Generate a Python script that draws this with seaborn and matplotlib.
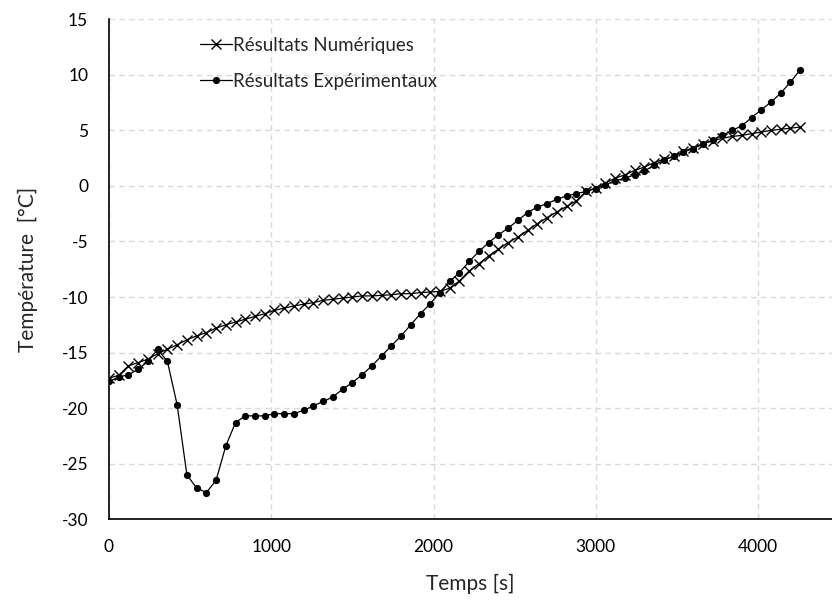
import matplotlib
matplotlib.use("Agg")
import matplotlib.pyplot as plt
import seaborn as sns
import pandas as pd

sns.set_style("white")
plt.rcParams['font.family'] = ['Lato', 'DejaVu Sans']
plt.rcParams['axes.unicode_minus'] = False

# sampling times (s), one reading every minute
temps = [0, 60, 120, 180, 240, 300, 360, 420, 480, 540, 600, 660,
         720, 780, 840, 900, 960, 1020, 1080, 1140, 1200, 1260, 1320, 1380,
         1440, 1500, 1560, 1620, 1680, 1740, 1800, 1860, 1920, 1980, 2040, 2100,
         2160, 2220, 2280, 2340, 2400, 2460, 2520, 2580, 2640, 2700, 2760, 2820,
         2880, 2940, 3000, 3060, 3120, 3180, 3240, 3300, 3360, 3420, 3480, 3540,
         3600, 3660, 3720, 3780, 3840, 3900, 3960, 4020, 4080, 4140, 4200, 4260]

numerique = [-17.3, -17.05, -16.2, -15.9, -15.6, -15.1, -14.7, -14.3, -13.85, -13.5, -13.2, -12.8,
             -12.5, -12.25, -12.0, -11.75, -11.5, -11.2, -11.0, -10.8, -10.65, -10.5, -10.3, -10.2,
             -10.1, -10.0, -9.9, -9.9, -9.85, -9.8, -9.7, -9.7, -9.6, -9.55, -9.5, -9.2,
             -8.55, -7.65, -7.0, -6.3, -5.7, -5.1, -4.6, -4.0, -3.4, -2.85, -2.35, -1.85,
             -1.35, -0.5, -0.15, 0.25, 0.7, 1.0, 1.4, 1.7, 2.1, 2.4, 2.65, 3.1,
             3.45, 3.8, 4.05, 4.3, 4.45, 4.55, 4.7, 4.85, 5.0, 5.1, 5.2, 5.3]

experimental = [-17.6, -17.2, -17.0, -16.5, -15.8, -14.7, -15.8, -19.7, -26.0, -27.2, -27.6, -26.5,
                -23.4, -21.3, -20.7, -20.7, -20.7, -20.5, -20.5, -20.5, -20.2, -19.8, -19.4, -19.0,
                -18.3, -17.7, -17.0, -16.2, -15.3, -14.4, -13.5, -12.5, -11.5, -10.6, -9.6, -8.6,
                -7.8, -6.8, -5.9, -5.1, -4.4, -3.8, -3.1, -2.4, -1.9, -1.6, -1.2, -0.9,
                -0.7, -0.5, -0.25, 0.1, 0.45, 0.7, 1.0, 1.35, 1.85, 2.35, 2.65, 3.05,
                3.35, 3.75, 4.15, 4.55, 5.0, 5.4, 6.15, 6.85, 7.55, 8.35, 9.35, 10.45]

df = pd.DataFrame({'temps': temps, 'num': numerique, 'exp': experimental})

fig = plt.figure(figsize=(8.32, 6.03), dpi=100)
ax = fig.add_axes([0.131, 0.139, 0.869, 0.829])

sns.lineplot(data=df, x='temps', y='num', ax=ax, color='black', lw=0.9,
             marker='x', markersize=6.5, markeredgewidth=1,
             markeredgecolor='black', label='Résultats Numériques')
sns.lineplot(data=df, x='temps', y='exp', ax=ax, color='black', lw=0.9,
             marker='o', markersize=5.2, markeredgewidth=0,
             markeredgecolor='black', label='Résultats Expérimentaux')

ax.set_xlim(0, 4456)
ax.set_ylim(-30, 15)
ax.set_xticks([0, 1000, 2000, 3000, 4000])
ax.set_yticks(range(-30, 16, 5))
ax.grid(True, color='#d9d9d9', linestyle=(0, (4, 3)), lw=1)
ax.tick_params(direction='in', length=5, width=1, labelsize=12.5, colors='black')
ax.tick_params(axis='y', pad=15)
ax.tick_params(axis='x', pad=14)
for s in ['top', 'right']:
    ax.spines[s].set_visible(False)
for s in ['left', 'bottom']:
    ax.spines[s].set_color('black')
    ax.spines[s].set_linewidth(1.2)

ax.set_xlabel('Temps [s]', fontsize=15, labelpad=14)
ax.set_ylabel('Température  [°C]', fontsize=15, labelpad=17)

ax.legend(loc='upper left', bbox_to_anchor=(0.126, 0.965), frameon=False,
          fontsize=13.5, handlelength=1.7, handletextpad=0.05,
          borderpad=0, borderaxespad=0, labelspacing=1.0)

fig.savefig('out.png', dpi=100)
